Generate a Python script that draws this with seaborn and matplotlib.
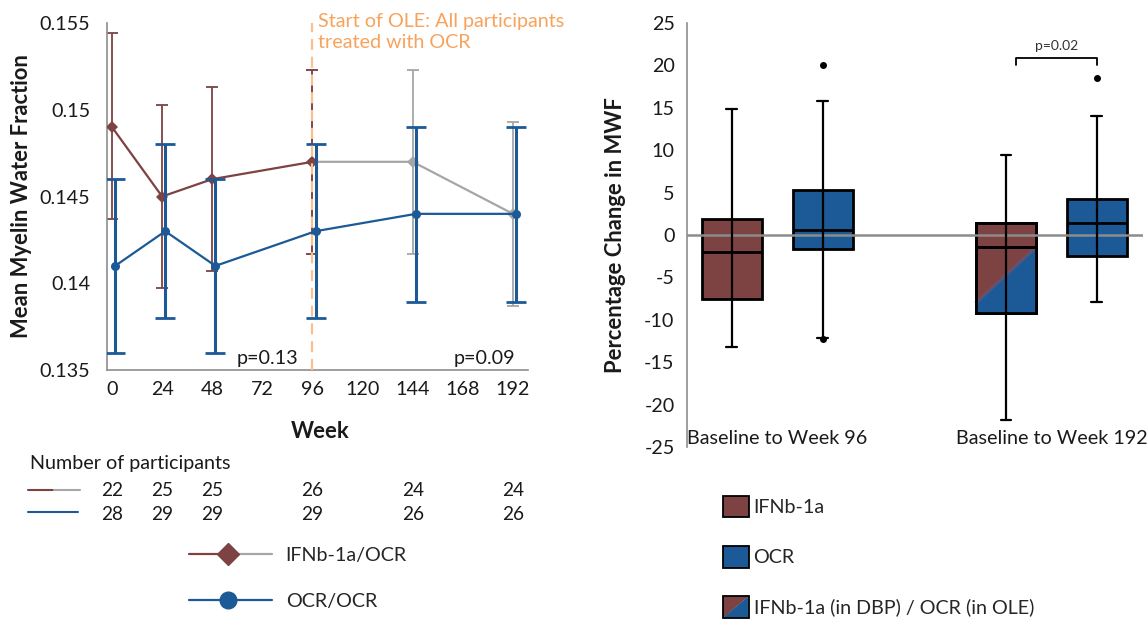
import numpy as np
import pandas as pd
import matplotlib
matplotlib.use("Agg")
import matplotlib.pyplot as plt
import matplotlib.transforms as mtransforms
import seaborn as sns
from matplotlib.patches import Polygon, Rectangle
from matplotlib.lines import Line2D
from matplotlib.legend_handler import HandlerBase

# ---------------- data: left panel ----------------
weeks = [0, 24, 48, 96, 144, 192]
ifn_mean = [0.149, 0.145, 0.146, 0.147, 0.147, 0.144]
ifn_lo = [0.1437, 0.1397, 0.1407, 0.1417, 0.1417, 0.1387]
ifn_hi = [0.1544, 0.1503, 0.1513, 0.1523, 0.1523, 0.1493]
ocr_mean = [0.141, 0.143, 0.141, 0.143, 0.144, 0.144]
ocr_lo = [0.136, 0.138, 0.136, 0.138, 0.1389, 0.1389]
ocr_hi = [0.146, 0.148, 0.146, 0.148, 0.149, 0.149]
n_ifn = [22, 25, 25, 26, 24, 24]
n_ocr = [28, 29, 29, 29, 26, 26]
week_ticks = [0, 24, 48, 72, 96, 120, 144, 168, 192]
mwf_ticks = [0.135, 0.14, 0.145, 0.15, 0.155]
mwf_labels = ["0.135", "0.14", "0.145", "0.15", "0.155"]
ole_start = 96
p_left = ["p=0.13", "p=0.09"]

# ---------------- data: right panel ----------------
groups = ["Baseline to Week 96", "Baseline to Week 192"]
box_group = [0, 0, 1, 1]
box_q1 = [-7.6, -1.7, -9.2, -2.5]
box_med = [-2.0, 0.6, -1.4, 1.4]
box_q3 = [1.9, 5.3, 1.4, 4.2]
box_whislo = [-13.2, -12.2, -21.8, -7.9]
box_whishi = [14.8, 15.8, 9.4, 14.0]
box_fliers = [[], [20.0, -12.3], [], [18.5]]
pct_ticks = [-25, -20, -15, -10, -5, 0, 5, 10, 15, 20, 25]
p_right = "p=0.02"
legend_right = ["IFNb-1a", "OCR", "IFNb-1a (in DBP) / OCR (in OLE)"]
legend_left = ["IFNb-1a/OCR", "OCR/OCR"]

# ---------------- style ----------------
BROWN = "#7D4242"
BLUE = "#1B5A97"
GRAY = "#A6A6A6"
SPINE = "#8E8E8E"
ORANGE_TXT = "#F7A35C"
ORANGE_LN = "#FBC08F"
TXT = "#1A1A1A"

sns.set_style("white")
plt.rcParams["font.family"] = ["Lato", "DejaVu Sans"]
plt.rcParams["axes.unicode_minus"] = False
FS = 14.2
FS_LAB = 15.8

W, H = 1148, 620
fig = plt.figure(figsize=(W / 100, H / 100), dpi=100)

def frac_box(l, t, r, b):
    return [l / W, 1 - b / H, (r - l) / W, (b - t) / H]

# ================= LEFT PANEL =================
axL = fig.add_axes(frac_box(107, 23, 528, 370))
dodge = 1.5  # horizontal dodge for the OCR/OCR series

df_ifn = pd.DataFrame({"week": weeks, "mwf": ifn_mean, "lo": ifn_lo, "hi": ifn_hi})
df_ocr = pd.DataFrame({"week": weeks, "mwf": ocr_mean, "lo": ocr_lo, "hi": ocr_hi})
df_ocr["xw"] = df_ocr["week"] + dodge
dbp = df_ifn[df_ifn["week"] <= ole_start]
ole = df_ifn[df_ifn["week"] >= ole_start]

# error bars
axL.errorbar(ole["week"], ole["mwf"], yerr=[ole["mwf"] - ole["lo"], ole["hi"] - ole["mwf"]],
             fmt="none", ecolor=GRAY, elinewidth=1.3, capsize=4, capthick=1.3, zorder=2)
axL.errorbar(dbp["week"], dbp["mwf"], yerr=[dbp["mwf"] - dbp["lo"], dbp["hi"] - dbp["mwf"]],
             fmt="none", ecolor=BROWN, elinewidth=1.3, capsize=4, capthick=1.3, zorder=2.1)
sns.lineplot(data=ole, x="week", y="mwf", ax=axL, color=GRAY, lw=1.6, marker="D",
             markersize=6.5, markeredgewidth=0, errorbar=None, legend=False, zorder=3)
sns.lineplot(data=dbp, x="week", y="mwf", ax=axL, color=BROWN, lw=1.6, marker="D",
             markersize=6.5, markeredgewidth=0, errorbar=None, legend=False, zorder=3.1)
axL.errorbar(df_ocr["xw"], df_ocr["mwf"],
             yerr=[df_ocr["mwf"] - df_ocr["lo"], df_ocr["hi"] - df_ocr["mwf"]],
             fmt="none", ecolor=BLUE, elinewidth=2.2, capsize=7, capthick=2.0, zorder=3.5)
sns.lineplot(data=df_ocr, x="xw", y="mwf", ax=axL, color=BLUE, lw=1.6, marker="o",
             markersize=6.5, markeredgewidth=0, errorbar=None, legend=False, zorder=3.6)

axL.axvline(ole_start, color=ORANGE_LN, lw=1.6, ls=(0, (5, 3)), zorder=4)
axL.text(ole_start + 2.6, 0.1556, "Start of OLE: All participants\ntreated with OCR",
         color=ORANGE_TXT, fontsize=FS, va="top", ha="left", linespacing=1.3,
         clip_on=False)
axL.text(89, 0.1352, p_left[0], fontsize=FS, color=TXT, ha="right", va="bottom")
axL.text(193, 0.1352, p_left[1], fontsize=FS, color=TXT, ha="right", va="bottom")

axL.set_xlim(-2.4, 199.2)
axL.set_ylim(0.135, 0.155)
axL.set_xticks(week_ticks)
axL.set_xticklabels([str(w) for w in week_ticks])
axL.set_yticks(mwf_ticks)
axL.set_yticklabels(mwf_labels)
for s in ["top", "right"]:
    axL.spines[s].set_visible(False)
for s in ["left", "bottom"]:
    axL.spines[s].set_color(SPINE)
    axL.spines[s].set_linewidth(1.2)
axL.tick_params(axis="both", direction="out", length=4, width=1.1, color=SPINE,
                labelsize=FS, labelcolor=TXT)
axL.tick_params(axis="y", pad=8)
axL.tick_params(axis="x", pad=4)
axL.set_xlabel("Week", fontsize=FS_LAB, fontweight="bold", color=TXT)
axL.set_ylabel("Mean Myelin Water Fraction", fontsize=FS_LAB, fontweight="bold", color=TXT)
axL.xaxis.set_label_coords(0.506, -0.148)
axL.yaxis.set_label_coords(-0.178, 0.5)

# participants table
fig.text(30 / W, 1 - 463 / H, "Number of participants", fontsize=FS, color=TXT,
         ha="left", va="center")
blend = mtransforms.blended_transform_factory(axL.transData, fig.transFigure)
y_r1, y_r2 = 1 - 491 / H, 1 - 514 / H
for w, a, b in zip(weeks, n_ifn, n_ocr):
    axL.text(w, y_r1, str(a), transform=blend, fontsize=FS - 0.5, color=TXT,
             ha="center", va="center", clip_on=False)
    axL.text(w, y_r2, str(b), transform=blend, fontsize=FS - 0.5, color=TXT,
             ha="center", va="center", clip_on=False)
fig.add_artist(Line2D([28 / W, 53 / W], [1 - 490 / H] * 2, color=BROWN, lw=1.5,
                      transform=fig.transFigure))
fig.add_artist(Line2D([54 / W, 80 / W], [1 - 490 / H] * 2, color=GRAY, lw=1.5,
                      transform=fig.transFigure))
fig.add_artist(Line2D([28 / W, 78 / W], [1 - 512 / H] * 2, color=BLUE, lw=1.5,
                      transform=fig.transFigure))


class HandlerIFN(HandlerBase):
    def create_artists(self, legend, orig_handle, xd, yd, w, h, fs, trans):
        y = (h - yd) / 2
        x0, x1 = -xd, w - xd
        xm = x0 + 0.47 * w
        return [Line2D([x0, xm], [y, y], color=BROWN, lw=1.6, transform=trans),
                Line2D([xm, x1], [y, y], color=GRAY, lw=1.6, transform=trans),
                Line2D([xm], [y], marker="D", ms=11, color=BROWN, mec=BROWN,
                       lw=0, transform=trans)]


class HandlerOCR(HandlerBase):
    def create_artists(self, legend, orig_handle, xd, yd, w, h, fs, trans):
        y = (h - yd) / 2
        x0, x1 = -xd, w - xd
        xm = x0 + 0.47 * w
        return [Line2D([x0, x1], [y, y], color=BLUE, lw=1.6, transform=trans),
                Line2D([xm], [y], marker="o", ms=12, color=BLUE, mec=BLUE,
                       lw=0, transform=trans)]


class HandlerSplit(HandlerBase):
    def create_artists(self, legend, orig_handle, xd, yd, w, h, fs, trans):
        x0, y0 = -xd, -yd
        up = Polygon([[x0, y0], [x0, y0 + h], [x0 + w, y0 + h]], closed=True,
                     fc=BROWN, ec="none", transform=trans)
        lo = Polygon([[x0, y0], [x0 + w, y0 + h], [x0 + w, y0]], closed=True,
                     fc=BLUE, ec="none", transform=trans)
        fr = Rectangle((x0, y0), w, h, fc="none", ec="black", lw=1.3, transform=trans)
        return [up, lo, fr]


hL1, hL2 = object(), object()
legL = fig.legend([hL1, hL2], legend_left,
                  handler_map={hL1: HandlerIFN(), hL2: HandlerOCR()},
                  loc="upper left", bbox_to_anchor=(189 / W, 1 - 547 / H),
                  frameon=False, fontsize=FS, handlelength=4.2, handletextpad=0.7,
                  labelspacing=1.45, borderpad=0, borderaxespad=0)

# ================= RIGHT PANEL =================
axR = fig.add_axes(frac_box(687, 23, 1143, 447))
group_pos = [1.0, 2.0]
off = 0.166
bw = 0.222
positions = [group_pos[g] + (off if i % 2 else -off) for i, g in enumerate(box_group)]
face = [BROWN, BLUE, BROWN, BLUE]

stats = []
for i in range(4):
    stats.append(dict(q1=box_q1[i], med=box_med[i], q3=box_q3[i],
                      whislo=box_whislo[i], whishi=box_whishi[i],
                      fliers=box_fliers[i]))
res = axR.bxp(stats, positions=positions, widths=bw, patch_artist=True,
              showcaps=True, capwidths=0.04, manage_ticks=False,
              boxprops=dict(lw=2.0, edgecolor="black"),
              medianprops=dict(color="black", lw=2.0),
              whiskerprops=dict(color="black", lw=1.6),
              capprops=dict(color="black", lw=1.6),
              flierprops=dict(marker="o", mfc="black", mec="black", ms=4),
              zorder=1.5)
for b, c in zip(res["boxes"], face):
    b.set_facecolor(c)

# split fill of the DBP->OLE box
i = 2
x0, x1 = positions[i] - bw / 2, positions[i] + bw / 2
tri = Polygon([[x0, box_q1[i]], [x0, box_q1[i] + 0.15 * (box_med[i] - box_q1[i])],
               [x1, box_med[i]], [x1, box_q1[i]]], closed=True, fc=BLUE, ec="none",
              zorder=1.6)
axR.add_patch(tri)
axR.plot([x0, x1], [box_q1[i] + 0.15 * (box_med[i] - box_q1[i]), box_med[i]],
         color="#6B5578", lw=2.5, alpha=0.6, zorder=1.65, solid_capstyle="butt")
axR.add_patch(Rectangle((x0, box_q1[i]), bw, box_q3[i] - box_q1[i], fill=False,
                        ec="black", lw=2.0, zorder=1.7))
axR.hlines(box_med[i], x0, x1, color="black", lw=2.0, zorder=1.75)

axR.axhline(0, color="#8C8C8C", lw=1.8, zorder=2)
axR.vlines(positions, box_q1, box_q3, color="black", lw=1.6, zorder=3)

# p-value bracket
bx0, bx1 = positions[2] + 0.035, positions[3]
axR.plot([bx0, bx0, bx1, bx1], [20.1, 20.9, 20.9, 20.1], color="black", lw=1.3)
axR.text((bx0 + bx1) / 2, 21.6, p_right, fontsize=10, color="#333333",
         ha="center", va="bottom")

axR.set_xlim(0.670, 2.334)
axR.set_ylim(-25, 25)
axR.set_yticks(pct_ticks)
axR.set_yticklabels([str(t) for t in pct_ticks])
axR.set_xticks(group_pos)
axR.set_xticklabels(groups)
for s in ["top", "right", "bottom"]:
    axR.spines[s].set_visible(False)
axR.spines["left"].set_color(SPINE)
axR.spines["left"].set_linewidth(1.2)
axR.tick_params(axis="y", direction="out", length=4, width=1.1, color=SPINE,
                labelsize=FS, labelcolor=TXT, pad=5)
axR.tick_params(axis="x", length=0, labelsize=FS, labelcolor=TXT, pad=-12)
axR.set_ylabel("Percentage Change in MWF", fontsize=FS_LAB, fontweight="bold", color=TXT)
axR.yaxis.set_label_coords(-0.133, 0.5)

hR3 = object()
legR = fig.legend([Rectangle((0, 0), 1, 1, fc=BROWN, ec="black", lw=1.3),
                   Rectangle((0, 0), 1, 1, fc=BLUE, ec="black", lw=1.3), hR3],
                  legend_right, handler_map={hR3: HandlerSplit()},
                  loc="upper left", bbox_to_anchor=(723 / W, 1 - 496 / H),
                  frameon=False, fontsize=FS, handlelength=1.3, handleheight=1.3,
                  handletextpad=0.25, labelspacing=1.45, borderpad=0, borderaxespad=0)

fig.savefig("out.png", dpi=100)
